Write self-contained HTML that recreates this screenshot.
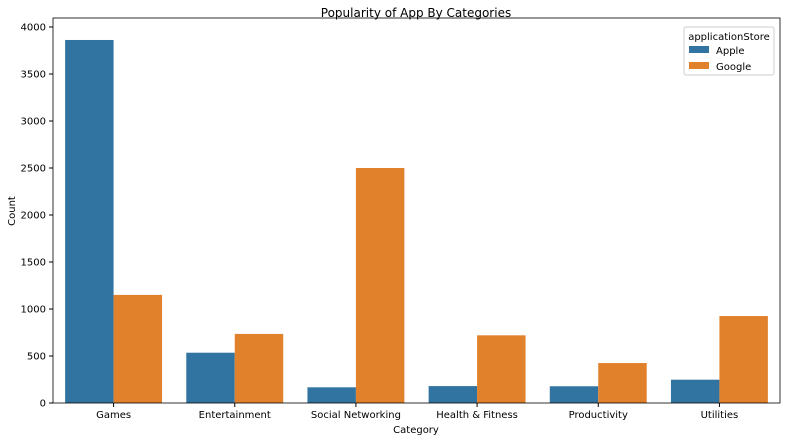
<!DOCTYPE html>
<html><head><meta charset="utf-8"><style>
body{margin:0;background:#fff;font-family:"Liberation Sans","DejaVu Sans",sans-serif;}
svg text{font-family:"DejaVu Sans","Liberation Sans",sans-serif;fill:#000;}
</style></head><body>
<svg id="chart" width="786" height="441">
<text x="416" y="17" font-size="12" text-anchor="middle">Popularity of App By Categories</text>
<text x="416" y="433" font-size="10" text-anchor="middle">Category</text>
<text transform="translate(15,211) rotate(-90)" font-size="10" text-anchor="middle">Count</text>
<g id="bars"></g><g id="axes"></g>
<g>
<rect x="684" y="27" width="90" height="48" fill="#fff" stroke="#ccc" rx="2"/>
<text x="729" y="40" font-size="10" text-anchor="middle">applicationStore</text>
<rect x="689" y="46" width="20" height="7" fill="#3274a1"/>
<text x="716" y="54" font-size="10">Apple</text>
<rect x="689" y="62" width="20" height="7" fill="#e1812c"/>
<text x="716" y="70" font-size="10">Google</text>
</g>
</svg>
<script>
const categories=["Games","Entertainment","Social Networking","Health & Fitness","Productivity","Utilities"];
const appleValues=[3862,535,167,180,178,248];
const googleValues=[1150,735,2500,720,425,925];
const yTicks=[0,500,1000,1500,2000,2500,3000,3500,4000];
const L=53,R=780,T=18,B=403,yMax=4000,yTop=27;
const ns="http://www.w3.org/2000/svg";
const y=v=>B-v*(B-yTop)/yMax;
const band=(R-L)/categories.length;
const xc=i=>L+band*(i+0.5);
const bw=band*0.4;
const bars=document.getElementById('bars'),axes=document.getElementById('axes');
function mk(tag,a,p){const e=document.createElementNS(ns,tag);for(const k in a)e.setAttribute(k,a[k]);p.appendChild(e);return e;}
categories.forEach((c,i)=>{
 let r=mk('rect',{x:xc(i)-bw,y:y(appleValues[i]),width:bw,height:B-y(appleValues[i]),fill:'#3274a1'},bars);
 
 
 r=mk('rect',{x:xc(i),y:y(googleValues[i]),width:bw,height:B-y(googleValues[i]),fill:'#e1812c'},bars);
 
 
 mk('line',{x1:xc(i),x2:xc(i),y1:B,y2:B+4,stroke:'#000'},axes);
 const t=mk('text',{x:xc(i),y:B+15,'font-size':10,'text-anchor':'middle'},axes);t.textContent=c;
 
 
});
yTicks.forEach(v=>{
 mk('line',{x1:L-4,x2:L,y1:y(v),y2:y(v),stroke:'#000'},axes);
 const t=mk('text',{x:L-7,y:y(v)+3.5,'font-size':10,'text-anchor':'end'},axes);t.textContent=v;
 
 
});
mk('rect',{x:L,y:T,width:R-L,height:B-T,fill:'none',stroke:'#000','stroke-width':0.8},axes);
</script>
</body></html>
